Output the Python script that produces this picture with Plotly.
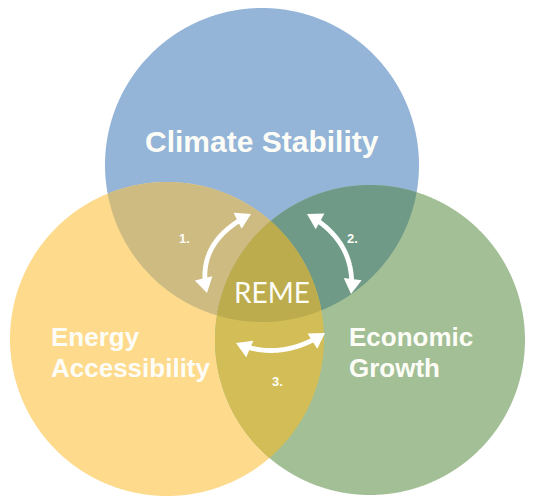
import numpy as np
import plotly.graph_objects as go

W, H = 535, 499

# ---- data ----
circle_names = ["Climate Stability", "Energy Accessibility", "Economic Growth"]
circle_cx = [262, 167, 370]
circle_cy = [165, 339, 340]
circle_r = [157, 157, 155]
circle_colors = ["#94b4d8", "#fdda8c", "#a3bf96"]

pair_sets = [(0, 1), (0, 2), (1, 2)]
pair_colors = ["#cdbb82", "#6f9a87", "#d3bd57"]
triple_color = "#bcac4d"

center_label = "REME"
arrow_numbers = ["1.", "2.", "3."]

# label lines: (text, x, y, anchor, size)
label_lines = [
    ("Climate Stability", 262, 141, "center", 30),
    ("Energy", 49, 337, "left", 26),
    ("Accessibility", 49, 368, "left", 26),
    ("Economic", 347, 337, "left", 26),
    ("Growth", 347, 368, "left", 26),
]
number_pos = [(184, 238), (352, 238), (277, 381)]

# arrows: (tip A, control, tip B)
arrows = [
    ((207, 293), (195, 242), (251, 214)),
    ((307, 214), (357, 242), (351, 294)),
    ((236, 343), (280, 362), (325, 333)),
]

fig = go.Figure()
shapes = []


def circle_pts(i, n=1440):
    th = np.linspace(0, 2 * np.pi, n, endpoint=False)
    return np.c_[circle_cx[i] + circle_r[i] * np.cos(th),
                 circle_cy[i] + circle_r[i] * np.sin(th)]


def inter_poly(idxs):
    pts = []
    for i in idxs:
        p = circle_pts(i)
        mask = np.ones(len(p), bool)
        for j in idxs:
            if j == i:
                continue
            d = np.hypot(p[:, 0] - circle_cx[j], p[:, 1] - circle_cy[j])
            mask &= d <= circle_r[j] + 1e-9
        pts.append(p[mask])
    pts = np.vstack(pts)
    c = pts.mean(axis=0)
    ang = np.arctan2(pts[:, 1] - c[1], pts[:, 0] - c[0])
    return pts[np.argsort(ang)]


def path_of(pts):
    return "M " + " L ".join(f"{x:.2f},{y:.2f}" for x, y in pts) + " Z"


for i in range(3):
    shapes.append(dict(type="path", path=path_of(circle_pts(i)), xref="x", yref="y",
                       fillcolor=circle_colors[i], line=dict(width=0), layer="below"))
for (a, b), col in zip(pair_sets, pair_colors):
    shapes.append(dict(type="path", path=path_of(inter_poly([a, b])), xref="x", yref="y",
                       fillcolor=col, line=dict(width=0), layer="below"))
shapes.append(dict(type="path", path=path_of(inter_poly([0, 1, 2])), xref="x", yref="y",
                   fillcolor=triple_color, line=dict(width=0), layer="below"))

# arrows
HEAD_L, HEAD_W, SHAFT_W = 15, 9, 4.8
for p0, c, p2 in arrows:
    p0, c, p2 = map(np.array, (p0, c, p2))
    t = np.linspace(0, 1, 400)[:, None]
    curve = (1 - t) ** 2 * p0 + 2 * (1 - t) * t * c + t ** 2 * p2
    seg = np.hypot(*np.diff(curve, axis=0).T)
    s = np.r_[0, np.cumsum(seg)]
    L = s[-1]
    keep = (s >= HEAD_L - 3) & (s <= L - HEAD_L + 3)
    sh = curve[keep]
    fig.add_trace(go.Scatter(x=sh[:, 0], y=sh[:, 1], mode="lines",
                             line=dict(color="white", width=SHAFT_W, shape="spline"),
                             hoverinfo="skip", showlegend=False))
    for tip, ctrl in ((p0, c), (p2, c)):
        d = tip - ctrl
        d = d / np.hypot(*d)
        n = np.array([-d[1], d[0]])
        base = tip - d * HEAD_L
        tri = [tip, base + n * HEAD_W, base - n * HEAD_W]
        shapes.append(dict(type="path", path=path_of(tri), xref="x", yref="y",
                           fillcolor="white", line=dict(width=0), layer="above"))

annotations = []
for txt, x, y, anc, size in label_lines:
    annotations.append(dict(x=x, y=y, xref="x", yref="y", text=f"<b>{txt}</b>",
                            showarrow=False, xanchor=anc, yanchor="middle",
                            font=dict(family="Liberation Sans, Arial", size=size, color="#fdfdf7")))
annotations.append(dict(x=272, y=292, xref="x", yref="y", text=center_label, showarrow=False,
                        xanchor="center", yanchor="middle",
                        font=dict(family="Lato, Noto Sans", size=28, color="#fdfdf7")))
for txt, (x, y) in zip(arrow_numbers, number_pos):
    annotations.append(dict(x=x, y=y, xref="x", yref="y", text=f"<b>{txt}</b>",
                            showarrow=False, xanchor="center", yanchor="middle",
                            font=dict(family="Liberation Sans, Arial", size=13, color="#fdfdf7")))

fig.update_layout(
    width=W, height=H, margin=dict(l=0, r=0, t=0, b=0),
    paper_bgcolor="white", plot_bgcolor="white",
    shapes=shapes, annotations=annotations, showlegend=False,
    xaxis=dict(range=[0, W], visible=False, fixedrange=True),
    yaxis=dict(range=[H, 0], visible=False, fixedrange=True),
)
fig.write_html("out.html", config={"displayModeBar": False},
               post_script="document.body.style.margin='0px';document.body.style.overflow='hidden';")
